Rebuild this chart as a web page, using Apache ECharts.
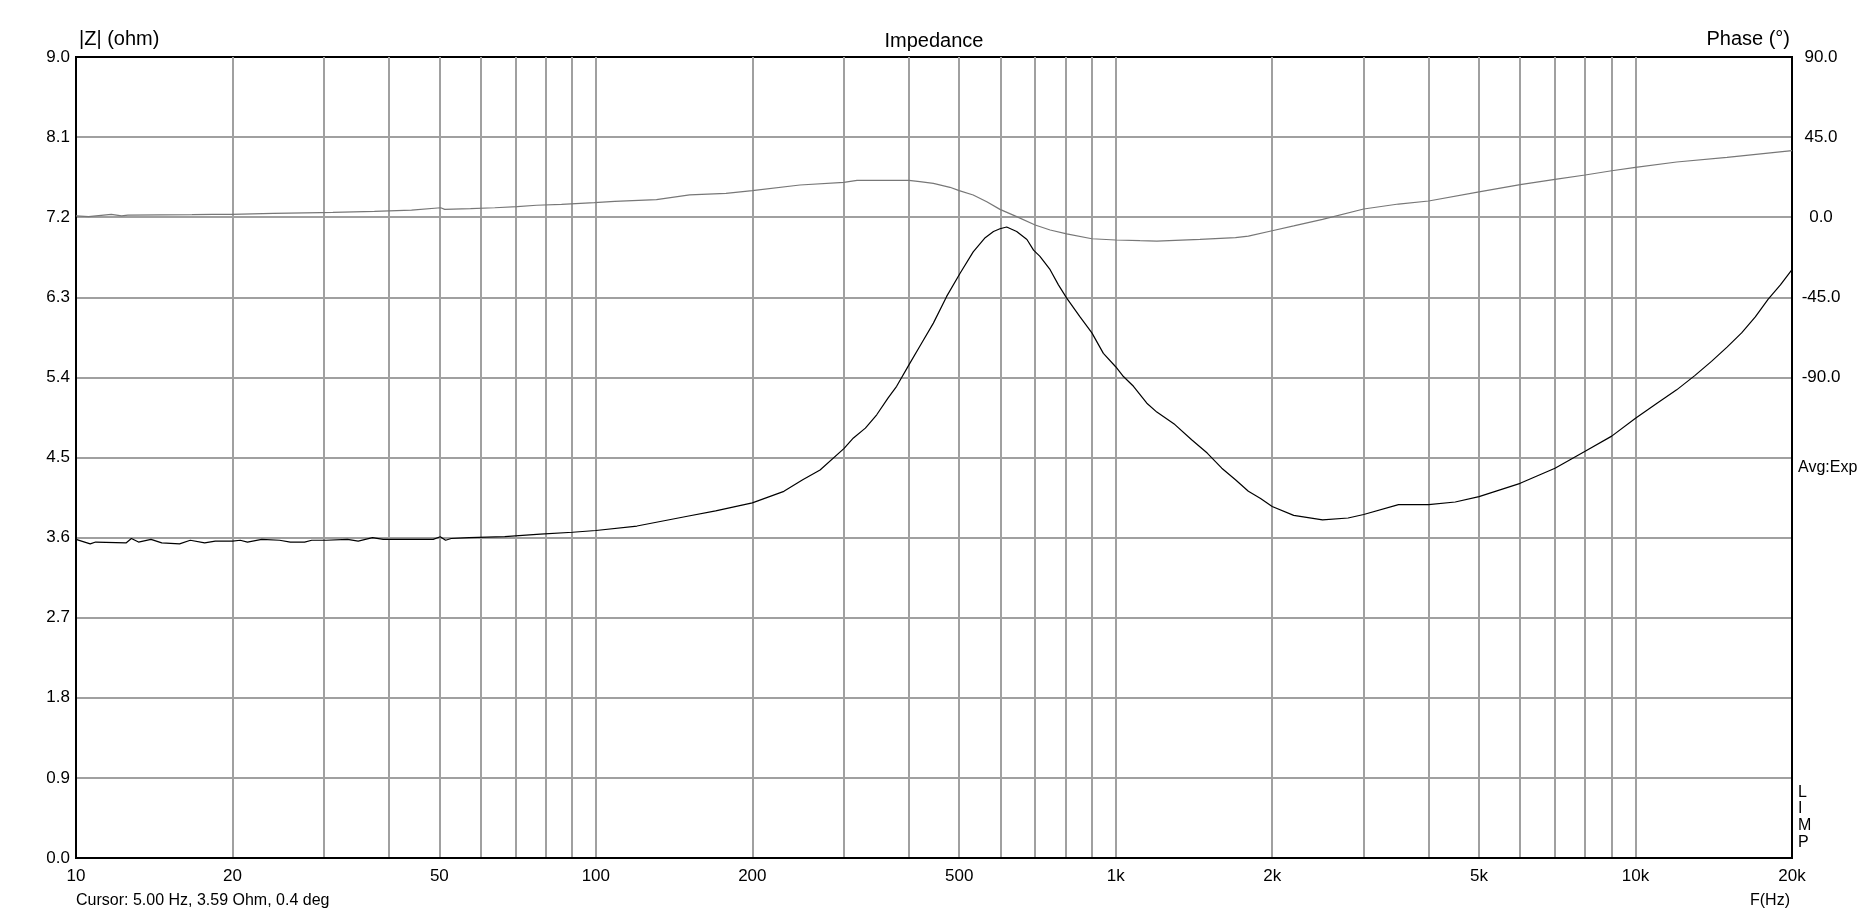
<!DOCTYPE html>
<html>
<head>
<meta charset="utf-8">
<title>Impedance</title>
<script src="https://cdn.jsdelivr.net/npm/echarts@6/dist/echarts.min.js"></script>
<style>
  html, body { margin: 0; padding: 0; background: #fff; }
  #chart { width: 1868px; height: 915px; }
</style>
</head>
<body>
<div id="chart"></div>
<script>
// impedance magnitude |Z| (ohm) vs frequency (Hz)
const zFreq = [10, 10.65, 10.91, 12.48, 12.78, 13.19, 13.94, 14.62, 15.82, 16.59, 17.68, 18.53, 20, 20.7, 21.37, 22.77, 24.64, 25.84, 27.53, 28.41, 30.27, 33.29, 34.9, 37.19, 38.99, 41.53, 44.94, 48.66, 50.2, 51.4, 52.7, 57, 66.8, 78.2, 90.2,
  100, 120, 150, 170, 200, 230, 250, 270, 300, 313, 330, 347, 365, 379, 402, 420, 446, 473, 502, 532, 561, 582, 599, 617, 645, 675, 695, 715, 748, 776, 805, 854, 900, 947,
  1000, 1035, 1082, 1148, 1200, 1300, 1400, 1500, 1600, 1700, 1800, 1900, 2000, 2200, 2500, 2800, 3000, 3500, 4000, 4500, 5000, 6000, 7000, 8000, 9000,
  10000, 11000, 12000, 13000, 14000, 15000, 16000, 17000, 18000, 19000, 20000];
const zOhm = [3.58, 3.53, 3.55, 3.54, 3.59, 3.55, 3.58, 3.54, 3.53, 3.57, 3.54, 3.56, 3.56, 3.57, 3.55, 3.58, 3.57, 3.55, 3.55, 3.57, 3.57, 3.58, 3.56, 3.60, 3.58, 3.58, 3.58, 3.58, 3.61, 3.57, 3.59, 3.60, 3.61, 3.64, 3.66,
  3.68, 3.73, 3.84, 3.90, 3.99, 4.12, 4.25, 4.36, 4.60, 4.72, 4.83, 4.98, 5.17, 5.30, 5.56, 5.75, 6.01, 6.31, 6.57, 6.81, 6.97, 7.04, 7.07, 7.09, 7.04, 6.95, 6.83, 6.76, 6.61, 6.44, 6.29, 6.08, 5.90, 5.67,
  5.52, 5.41, 5.30, 5.11, 5.01, 4.87, 4.70, 4.55, 4.38, 4.25, 4.12, 4.04, 3.95, 3.85, 3.80, 3.82, 3.86, 3.97, 3.97, 4.00, 4.06, 4.21, 4.38, 4.57, 4.74,
  4.94, 5.11, 5.26, 5.42, 5.58, 5.74, 5.90, 6.08, 6.28, 6.44, 6.61];

// phase (deg) vs frequency (Hz)
const phFreq = [10, 10.57, 11.69, 12.24, 12.58, 16.72, 18.33, 19.91, 23.97, 29.5, 31.2, 37.5, 44.2, 50.3, 51.2, 57.4, 63.9, 70.6, 76.9, 85.9, 99.4, 108.7, 130.8, 151.5, 178, 200, 247, 300, 318, 400, 420, 446, 480, 500, 532, 565, 599, 645, 700, 748, 805, 900, 1000, 1114, 1200, 1453, 1700, 1800, 2000, 2200, 2500, 3000, 3500, 4000, 5000, 6000, 7000, 8000, 9000, 10000, 12000, 15000, 20000];
const phDeg = [0.7, 0.3, 1.6, 0.7, 1.2, 1.4, 1.6, 1.6, 2.2, 2.6, 2.7, 3.3, 4.0, 5.3, 4.4, 4.8, 5.3, 5.9, 6.7, 7.2, 8.2, 8.9, 9.9, 12.5, 13.4, 14.9, 18.1, 19.6, 20.7, 20.7, 20.0, 19.0, 16.8, 14.9, 12.5, 8.7, 4.4, 0.3, -4.4, -7.2, -9.4, -12.1, -12.8, -13.2, -13.4, -12.5, -11.5, -10.6, -7.6, -4.9, -1.2, 4.6, 7.4, 9.1, 14.2, 18.3, 21.3, 23.7, 26.1, 28.0, 31.0, 33.6, 37.4];

// frequency grid and tick labels
const gridFreqs = [20, 30, 40, 50, 60, 70, 80, 90, 100, 200, 300, 400, 500, 600, 700, 800, 900, 1000, 2000, 3000, 4000, 5000, 6000, 7000, 8000, 9000, 10000];
const labelFreqs = [10, 20, 50, 100, 200, 500, 1000, 2000, 5000, 10000, 20000];
const labelTexts = ['10', '20', '50', '100', '200', '500', '1k', '2k', '5k', '10k', '20k'];

const gridColor = '#a0a0a0';
const font = 'Arial, "Liberation Sans", sans-serif';

const chart = echarts.init(document.getElementById('chart'));

chart.setOption({
  animation: false,
  backgroundColor: '#fff',
  textStyle: { fontFamily: font, color: '#000' },
  title: {
    text: 'Impedance', left: 'center', top: 31, padding: 0,
    textStyle: { fontFamily: font, fontSize: 20, fontWeight: 'normal', color: '#000' }
  },
  grid: { left: 76, right: 76, top: 57, bottom: 57, show: true, borderColor: '#000', borderWidth: 2, backgroundColor: 'transparent' },
  xAxis: {
    type: 'log', logBase: 10, min: 10, max: 20000,
    axisLine: { show: true, lineStyle: { color: '#000', width: 2 } },
    axisTick: { show: false, customValues: gridFreqs },
    axisLabel: {
      customValues: labelFreqs,
      formatter: v => labelTexts[labelFreqs.indexOf(Math.round(v))] || '',
      color: '#000', fontSize: 17, fontFamily: font, margin: 10
    },
    splitLine: { show: true, lineStyle: { color: gridColor, width: 2 } }
  },
  yAxis: [
    {
      type: 'value', min: 0, max: 9, interval: 0.9, position: 'left',
      name: '|Z| (ohm)', nameLocation: 'end', nameGap: 8,
      nameTextStyle: { align: 'left', fontSize: 20, fontFamily: font, color: '#000', padding: [0, 0, 0, 3] },
      axisLine: { show: true, lineStyle: { color: '#000', width: 2 } },
      axisTick: { show: false },
      axisLabel: { formatter: v => v.toFixed(1), color: '#000', fontSize: 17, fontFamily: font, margin: 6 },
      splitLine: { show: true, showMinLine: false, showMaxLine: false, lineStyle: { color: gridColor, width: 2 } }
    },
    {
      type: 'value', min: -360, max: 90, interval: 45, position: 'right',
      name: 'Phase (°)', nameLocation: 'end', nameGap: 8,
      nameTextStyle: { align: 'right', fontSize: 20, fontFamily: font, color: '#000', padding: [0, 2, 0, 0] },
      axisLine: { show: true, lineStyle: { color: '#000', width: 2 } },
      axisTick: { show: false },
      axisLabel: { formatter: v => (v >= -90 ? v.toFixed(1) : ''), align: 'center', color: '#000', fontSize: 17, fontFamily: font, margin: 29 },
      splitLine: { show: false }
    }
  ],
  series: [
    {
      name: 'Phase', type: 'line', yAxisIndex: 1, z: 3,
      data: phFreq.map((f, i) => [f, phDeg[i]]),
      showSymbol: false, symbol: 'none',
      lineStyle: { color: '#777777', width: 1.2 }
    },
    {
      name: '|Z|', type: 'line', yAxisIndex: 0, z: 4,
      data: zFreq.map((f, i) => [f, zOhm[i]]),
      showSymbol: false, symbol: 'none',
      lineStyle: { color: '#000000', width: 1.2 }
    }
  ],
  graphic: [
    { type: 'text', left: 76, top: 893, style: { text: 'Cursor: 5.00 Hz, 3.59 Ohm, 0.4 deg', font: '16px ' + font, fill: '#000' } },
    { type: 'text', right: 78, top: 893, style: { text: 'F(Hz)', font: '16px ' + font, fill: '#000' } },
    { type: 'text', left: 1798, top: 460, style: { text: 'Avg:Exp', font: '16px ' + font, fill: '#000' } },
    { type: 'text', left: 1798, top: 784, style: { text: 'L\nI\nM\nP', font: '16px ' + font, fill: '#000', lineHeight: 16.7 } }
  ]
});
</script>
</body>
</html>
